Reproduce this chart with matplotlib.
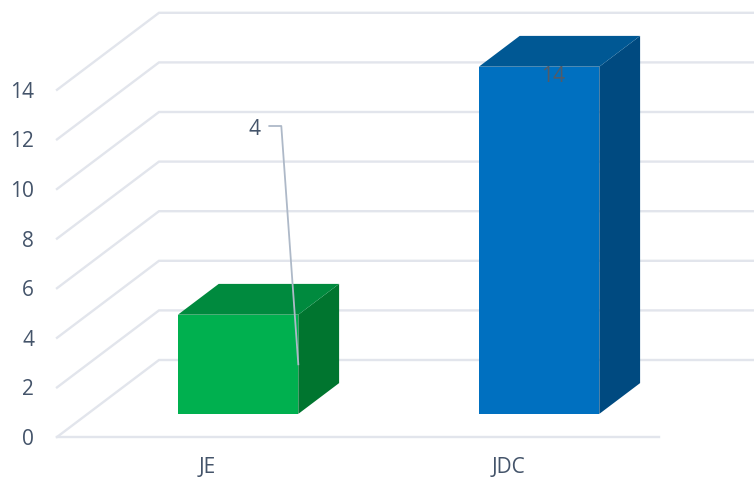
import matplotlib
matplotlib.use('Agg')
import matplotlib.pyplot as plt
from matplotlib.patches import Polygon

plt.rcParams['font.family'] = ['Open Sans', 'DejaVu Sans']

categories = ['JE', 'JDC']
values = [4, 14]
yticks = [0, 2, 4, 6, 8, 10, 12, 14]

front_colors = ['#00b04f', '#0070c0']
top_colors = ['#008a3e', '#005894']
side_colors = ['#00752f', '#004a80']

# pixel sizes of the chart box
W, H = 754, 478
x0_px, y0_px = 57, 437
cat_px = 301
unit_px = 24.8
depth_dx = 102 / cat_px
depth_dy = 77 / unit_px
bar_w = 0.4
font_size = 15
text_drop = 2.5 / unit_px  # matplotlib centres on the box with descent, digits sit high


def proj(x, v, d):
    # oblique projection, d goes 0 (front) to 1 (back wall)
    return x + d * depth_dx, v + d * depth_dy


fig = plt.figure(figsize=(W / 100, H / 100), dpi=100)
ax = fig.add_axes([0, 0, 1, 1])
ax.set_xlim(-0.5 - x0_px / cat_px, -0.5 + (W - x0_px) / cat_px)
ax.set_ylim(-(H - y0_px) / unit_px, y0_px / unit_px)
ax.axis('off')

grid_c = '#e2e5ec'
x_l, x_r = -0.5, 1.5
for t in yticks:
    p1 = proj(x_l, t, 0)
    p2 = proj(x_l, t, 1)
    p3 = proj(x_r, t, 1)
    ax.plot([p1[0], p2[0], p3[0]], [p1[1], p2[1], p3[1]], color=grid_c, lw=1.7,
            solid_joinstyle='miter', zorder=1)
    ax.text(-0.5 - 23 / cat_px, t - text_drop, str(t), ha='right', va='center', fontsize=font_size,
            color='#44546a')
# floor front edge
ax.plot([x_l, x_r], [0, 0], color=grid_c, lw=1.7, zorder=1)

d_front, d_back = 0.3, 0.7
for i, (cat, val) in enumerate(zip(categories, values)):
    xa, xb = i - bar_w / 2, i + bar_w / 2
    front = [proj(xa, 0, d_front), proj(xb, 0, d_front), proj(xb, val, d_front), proj(xa, val, d_front)]
    top = [proj(xa, val, d_front), proj(xb, val, d_front), proj(xb, val, d_back), proj(xa, val, d_back)]
    side = [proj(xb, 0, d_front), proj(xb, 0, d_back), proj(xb, val, d_back), proj(xb, val, d_front)]
    ax.add_patch(Polygon(side, color=side_colors[i], lw=0, zorder=3))
    ax.add_patch(Polygon(top, color=top_colors[i], lw=0, zorder=3))
    ax.add_patch(Polygon(front, color=front_colors[i], lw=0, zorder=3))
    ax.text(i, -30.5 / unit_px, cat, ha='center', va='center', fontsize=font_size, color='#44546a')

# data label for JE sits off the bar with a leader line
je_anchor = proj(0 + bar_w / 2, 2, d_front)
label_y = (y0_px - 126) / unit_px
ax.plot([je_anchor[0], je_anchor[0] - 17 / cat_px, je_anchor[0] - 29 / cat_px],
        [je_anchor[1], label_y, label_y], color='#aeb9c8', lw=1.3, zorder=4)
ax.text(je_anchor[0] - 44 / cat_px, label_y - 1 / unit_px - text_drop, str(values[0]), ha='center',
        va='center', fontsize=font_size, color='#44546a', zorder=5)

# JDC label overlaps the top of the bar
lab = proj(1 + 14 / cat_px, values[1], d_front)
ax.text(lab[0], lab[1] - 7 / unit_px - text_drop, str(values[1]), ha='center', va='center',
        fontsize=font_size, color='#525b68', zorder=5)

fig.savefig('out.png', dpi=100)
